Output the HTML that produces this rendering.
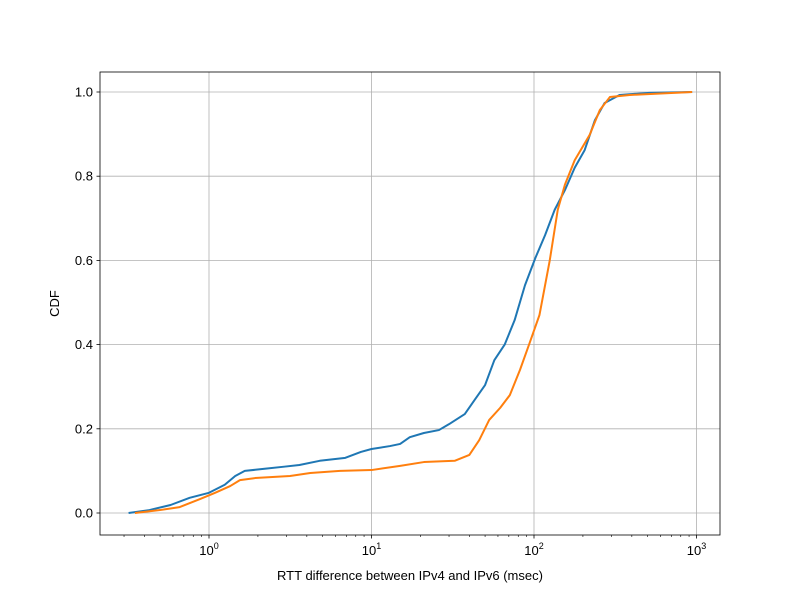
<!DOCTYPE html>
<html><head><meta charset="utf-8"><style>body{margin:0;background:#fff}svg{display:block;font-family:"Liberation Sans","DejaVu Sans",sans-serif}</style></head>
<body>
<svg id="chart" width="800" height="600" viewBox="0 0 800 600"></svg>
<script>
const xTicks=[0,1,2,3];
const yTicks=[0,0.2,0.4,0.6,0.8,1.0];
const yTickLabels=["0.0","0.2","0.4","0.6","0.8","1.0"];
const ipv4X=[0.32,0.43,0.58,0.76,1.0,1.25,1.45,1.66,2.2,2.9,3.6,4.8,6.9,8.6,10,13,15,17.2,21,26,30,37.5,43,50,57,66,76,88,102,117,134,155,178,205,237,272,336,514,940];
const ipv4Y=[0,0.007,0.019,0.036,0.048,0.067,0.088,0.1,0.105,0.11,0.114,0.124,0.131,0.145,0.152,0.159,0.164,0.18,0.19,0.197,0.211,0.235,0.268,0.304,0.363,0.4,0.458,0.541,0.606,0.66,0.72,0.767,0.82,0.862,0.933,0.974,0.993,0.998,1.0];
const ipv6X=[0.35,0.5,0.66,0.88,1.09,1.35,1.55,1.92,3.15,4.2,6.4,10,15,21,32.5,40,46,53,62,71,82,94,108,125,140,155,178,220,254,293,388,940];
const ipv6Y=[0,0.007,0.014,0.033,0.048,0.064,0.078,0.083,0.088,0.095,0.1,0.102,0.112,0.121,0.124,0.138,0.173,0.221,0.25,0.28,0.34,0.404,0.47,0.6,0.72,0.78,0.838,0.898,0.957,0.988,0.993,1.0];
const NS="http://www.w3.org/2000/svg";
const svg=document.getElementById('chart');
const L=100,R=720,T=72,B=535;
const xs=v=>209+162.5*Math.log10(v);
const xl=l=>209+162.5*l;
const ys=v=>513-421*v;
function mk(tag,attrs,parent){const e=document.createElementNS(NS,tag);for(const k in attrs)e.setAttribute(k,attrs[k]);(parent||svg).appendChild(e);return e;}
const grid=mk('g',{});


xTicks.forEach(l=>{
  const g=mk('line',{x1:xl(l),x2:xl(l),y1:T,y2:B,stroke:'#b0b0b0','stroke-width':0.8},grid);
  
  
});
yTicks.forEach(v=>{
  const g=mk('line',{x1:L,x2:R,y1:ys(v),y2:ys(v),stroke:'#b0b0b0','stroke-width':0.8},grid);
  
  
});
// minor ticks
for(let d=-1;d<3;d++){for(let m=2;m<10;m++){const v=Math.pow(10,d)*m;const x=xs(v);if(x<L||x>R)continue;
  const t=mk('line',{x1:x,x2:x,y1:B,y2:B+2,stroke:'#000','stroke-width':0.6});
  
  
}}
xTicks.forEach(l=>{
  const t=mk('line',{x1:xl(l),x2:xl(l),y1:B,y2:B+3.5,stroke:'#000','stroke-width':0.8});
  
  
  const tx=mk('text',{x:xl(l),y:B+20,'font-size':13,'text-anchor':'middle'});
  
  
  tx.innerHTML='10<tspan dy="-6" font-size="9">'+l+'</tspan>';
});
yTicks.forEach((v,i)=>{
  const t=mk('line',{x1:L-3.5,x2:L,y1:ys(v),y2:ys(v),stroke:'#000','stroke-width':0.8});
  
  
  const tx=mk('text',{x:L-7,y:ys(v)+4.5,'font-size':13,'text-anchor':'end'});
  
  
  tx.textContent=yTickLabels[i];
});
function series(X,Y,color,name){
  const p=mk('polyline',{points:X.map((x,i)=>xs(x)+','+ys(Y[i])).join(' '),fill:'none',stroke:color,'stroke-width':2,'stroke-linejoin':'round'});
  
  
}
series(ipv4X,ipv4Y,'#1f77b4','series-blue');
series(ipv6X,ipv6Y,'#ff7f0e','series-orange');
const frame=mk('rect',{x:L,y:T,width:R-L,height:B-T,fill:'none',stroke:'#000','stroke-width':0.8});


const xt=mk('text',{x:(L+R)/2,y:580,'font-size':13,'text-anchor':'middle'});


xt.textContent='RTT difference between IPv4 and IPv6 (msec)';
const yt=mk('text',{x:0,y:0,'font-size':13,'text-anchor':'middle',transform:'translate(59,'+((T+B)/2)+') rotate(-90)'});


yt.textContent='CDF';
</script>
</body></html>
